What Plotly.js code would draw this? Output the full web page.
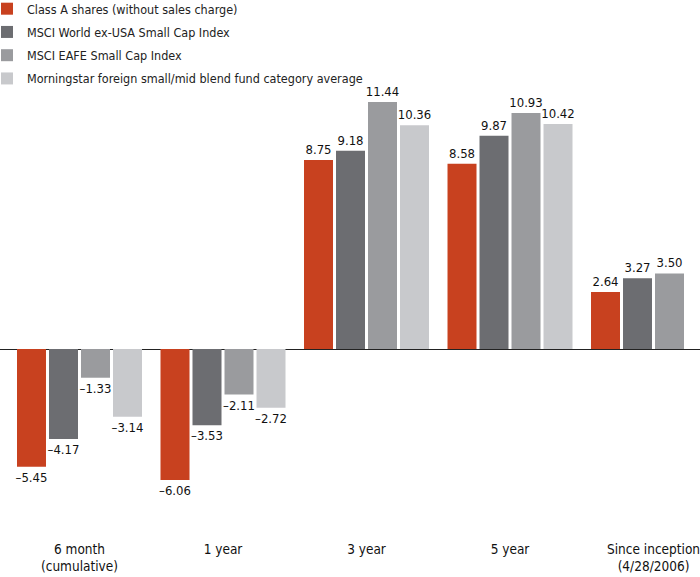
<!DOCTYPE html>
<html>
<head>
<meta charset="utf-8">
<script src="https://cdn.plot.ly/plotly-3.0.1.min.js"></script>
<style>
  html, body { margin: 0; padding: 0; background: #ffffff; }
  #chart { width: 700px; height: 577px; }
  #chart text { font-stretch: condensed !important; }
</style>
</head>
<body>
<div id="chart"></div>
<script>
const categories = ["6 month<br>(cumulative)", "1 year", "3 year", "5 year", "Since inception<br>(4/28/2006)"];
const seriesNames = [
  "Class A shares (without sales charge)",
  "MSCI World ex-USA Small Cap Index",
  "MSCI EAFE Small Cap Index",
  "Morningstar foreign small/mid blend fund category average"
];
const classA = [-5.45, -6.06, 8.75, 8.58, 2.64];
const msciWorld = [-4.17, -3.53, 9.18, 9.87, 3.27];
const msciEafe = [-1.33, -2.11, 11.44, 10.93, 3.50];
const morningstar = [-3.14, -2.72, 10.36, 10.42, null];
const colors = ["#C8411F", "#6C6D71", "#9A9B9E", "#C8C9CC"];

const FONT = "'DejaVu Sans Condensed', 'DejaVu Sans', sans-serif";

function fmt(v) {
  if (v === null) return "";
  return v < 0 ? "\u2013" + Math.abs(v).toFixed(2) : v.toFixed(2);
}

const allSeries = [classA, msciWorld, msciEafe, morningstar];
const traces = allSeries.map((vals, i) => ({
  type: "bar",
  name: seriesNames[i],
  legendgroup: "g" + i,
  x: categories,
  y: vals,
  text: vals.map(fmt),
  textposition: "outside",
  constraintext: "none",
  cliponaxis: false,
  textfont: { family: FONT, size: 13, color: "#111111" },
  marker: { color: colors[i], line: { width: 0 } },
  hoverinfo: "skip"
}));

const pxPerUnit = 21.6;
const zeroY = 349;
const topM = 0, botM = 38;
const H = 577;
const yTop = (zeroY - topM) / pxPerUnit;
const yBot = -((H - botM) - zeroY) / pxPerUnit;

const layout = {
  width: 700,
  height: 577,
  margin: { l: 0, r: 0, t: topM, b: botM, autoexpand: false },
  paper_bgcolor: "#ffffff",
  plot_bgcolor: "#ffffff",
  font: { family: FONT, size: 14, color: "#111111" },
  barmode: "group",
  bargap: 0.108,
  bargroupgap: 0.094,
  showlegend: true,
  legend: {
    x: -0.0186, y: 1.011, xanchor: "left", yanchor: "top",
    orientation: "v",
    font: { family: FONT, size: 12.5, color: "#222222" },
    bgcolor: "rgba(0,0,0,0)",
    traceorder: "grouped",
    tracegroupgap: 4
  },
  xaxis: {
    range: [-0.554, 4.324],
    showgrid: false,
    showline: false,
    zeroline: false,
    ticks: "",
    tickfont: { family: FONT, size: 13.5, color: "#111111" },
    fixedrange: true
  },
  yaxis: {
    range: [yBot, yTop],
    showgrid: false,
    showline: false,
    showticklabels: false,
    zeroline: true,
    zerolinecolor: "#222222",
    zerolinewidth: 1,
    ticks: "",
    fixedrange: true
  },
  hovermode: false
};

Plotly.newPlot("chart", traces, layout, { displayModeBar: false, staticPlot: true });
</script>
</body>
</html>
